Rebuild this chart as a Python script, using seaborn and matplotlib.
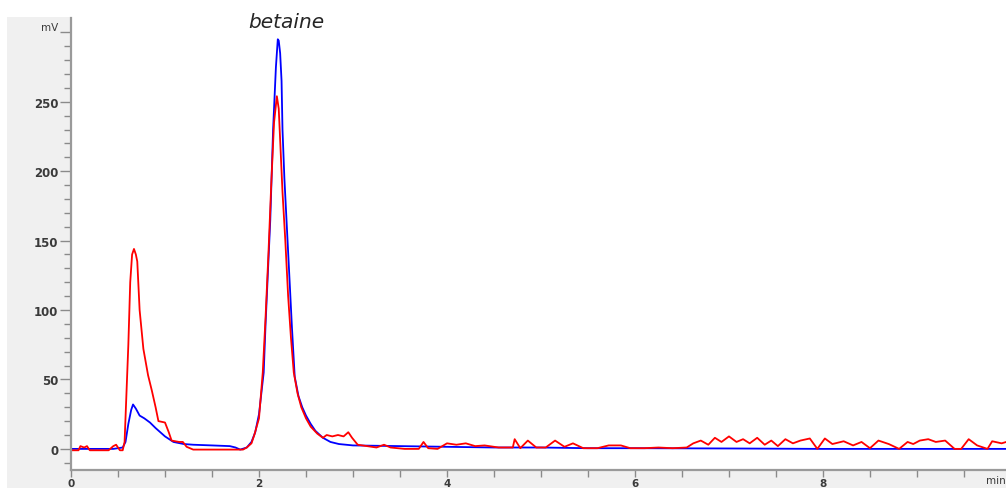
import pandas as pd
import seaborn as sns
import matplotlib.pyplot as plt
from matplotlib.patches import Rectangle
from matplotlib.ticker import MultipleLocator, FixedLocator

# blue trace (time in min, signal in mV)
blue_t = [0, 0.1, 0.2, 0.3, 0.45, 0.55, 0.58, 0.61, 0.64, 0.66, 0.69, 0.73, 0.78,
          0.84, 0.9, 0.95, 1.0, 1.09, 1.2, 1.3, 1.5, 1.69, 1.75, 1.8, 1.87, 1.92,
          1.96, 2.0, 2.05, 2.07, 2.1, 2.12, 2.15, 2.18, 2.2, 2.21, 2.225, 2.24,
          2.25, 2.27, 2.3, 2.33, 2.35, 2.38, 2.42, 2.46, 2.5, 2.55, 2.6, 2.68,
          2.76, 2.85, 3.0, 3.5, 4.0, 4.5, 5.0, 5.5, 6.0, 7.0, 8.0, 9.0, 9.95]
blue_v = [0, 0, 0, 0, 0, 1, 5, 18, 28, 32, 29, 24, 22,
          19, 15, 12, 9, 5, 3.5, 3, 2.5, 2, 1, -0.5, 1, 5,
          12, 25, 55, 90, 135, 165, 230, 275, 295, 294, 285, 265,
          230, 195, 155, 115, 88, 52, 38, 30, 24, 18, 13, 8,
          5, 3.5, 2.5, 2, 1.5, 1, 1, 0.5, 0.5, 0.3, 0, 0, 0]

# red trace
red_t = [0, 0.08, 0.1, 0.14, 0.17, 0.2, 0.24, 0.4, 0.45, 0.48, 0.52, 0.55, 0.57,
         0.59, 0.61, 0.63, 0.65, 0.67, 0.69, 0.705, 0.73, 0.77, 0.82, 0.86, 0.9,
         0.93, 1.0, 1.04, 1.07, 1.15, 1.19, 1.23, 1.3, 1.6, 1.83, 1.87, 1.92,
         1.95, 2.0, 2.04, 2.07, 2.1, 2.13, 2.16, 2.19, 2.21, 2.23, 2.25, 2.28,
         2.31, 2.34, 2.37, 2.41, 2.45, 2.5, 2.55, 2.62, 2.68, 2.72, 2.78, 2.84,
         2.9, 2.95, 2.99, 3.05, 3.15, 3.25, 3.33, 3.4, 3.55, 3.7, 3.75, 3.8, 3.9,
         4.0, 4.1, 4.2, 4.3, 4.4, 4.55, 4.7, 4.72, 4.78, 4.86, 4.95, 5.05, 5.15,
         5.25, 5.34, 5.45, 5.6, 5.72, 5.85, 5.95, 6.1, 6.25, 6.4, 6.55, 6.62,
         6.7, 6.78, 6.85, 6.92, 7.0, 7.08, 7.15, 7.22, 7.3, 7.38, 7.45, 7.52,
         7.6, 7.68, 7.76, 7.86, 7.94, 8.02, 8.1, 8.22, 8.32, 8.41, 8.5, 8.59,
         8.7, 8.81, 8.9, 8.96, 9.03, 9.12, 9.2, 9.3, 9.4, 9.47, 9.55, 9.64,
         9.75, 9.8, 9.9, 9.95]
red_v = [-1, -1, 2, 1, 2, -1, -1, -1, 2, 3, -1, -1, 5,
         40, 75, 120, 140, 144, 140, 135, 100, 72, 53, 42, 30,
         20, 19, 12, 6, 5, 5, 1.5, -0.5, -0.5, -0.5, 1, 4,
         10, 22, 55, 95, 140, 190, 235, 254, 245, 215, 185, 150,
         110, 80, 55, 40, 30, 22, 16, 11, 8, 10, 9, 10,
         9, 12, 8, 3, 2, 1, 3, 1, 0, 0, 5, 0.5, 0,
         4, 3, 4, 2, 2.5, 1, 1, 7, 0.5, 6, 1, 1, 6,
         1.5, 4, 0.5, 0.5, 2.5, 2.5, 0.5, 0.5, 1, 0.5, 1, 4,
         6, 3, 8, 5, 9, 5, 7, 4, 8, 3, 6, 2,
         7, 4, 6, 7.5, 0, 7.5, 3.5, 5.5, 2.5, 5, 0.5, 6,
         3.5, 0, 5, 3.5, 6, 7, 5, 6, 0, 0, 7, 2.5,
         0, 5.5, 4, 5]

y_major = [0, 50, 100, 150, 200, 250, 300]
y_labels = ['0', '50', '100', '150', '200', '250', 'mV']
x_major = [0, 2, 4, 6, 8]
x_labels = ['0', '2', '4', '6', '8']

sns.set_style('white')
plt.rcParams['font.family'] = ['DejaVu Sans']

W, H = 1006, 489
fig = plt.figure(figsize=(W / 100, H / 100), dpi=100, facecolor='white')
# grey instrument panel behind the plot
fig.patches.append(Rectangle((7 / W, 0), 1 - 7 / W, (H - 18) / H,
                             transform=fig.transFigure, facecolor='#f0f0f0',
                             edgecolor='none', zorder=-5))
ax = fig.add_axes([71 / W, (H - 471) / H, (W - 71) / W, 471 / H])
ax.set_facecolor('white')

blue_df = pd.DataFrame({'time': blue_t, 'mV': blue_v})
red_df = pd.DataFrame({'time': red_t, 'mV': red_v})
sns.lineplot(data=blue_df, x='time', y='mV', color='#0000ff', lw=1.3,
             sort=False, estimator=None, ax=ax)
sns.lineplot(data=red_df, x='time', y='mV', color='#ff0000', lw=1.3,
             sort=False, estimator=None, ax=ax)

ax.set_xlim(0, 9.947)
ax.set_ylim(-15.2, 324)
ax.set_xlabel('')
ax.set_ylabel('')

for s in ['top', 'right']:
    ax.spines[s].set_visible(False)
for s in ['left', 'bottom']:
    ax.spines[s].set_color('#9a9a9a')
    ax.spines[s].set_linewidth(1.6)
ax.spines['left'].set_bounds(-15.2, 310)

ax.yaxis.set_major_locator(FixedLocator(y_major))
ax.set_yticklabels(y_labels)
ax.yaxis.set_minor_locator(FixedLocator([v for v in range(-10, 310, 10) if v % 50 != 0]))
ax.xaxis.set_major_locator(FixedLocator(x_major))
ax.set_xticklabels(x_labels)
ax.xaxis.set_minor_locator(MultipleLocator(0.5))

ax.tick_params(which='both', left=True, bottom=True)
ax.tick_params(axis='y', which='major', direction='out', length=8, width=1,
               color='#8a8a8a', labelsize=8.5, labelcolor='#3a3a3a', pad=1)
ax.tick_params(axis='y', which='minor', direction='out', length=5, width=1,
               color='#8a8a8a')
ax.tick_params(axis='x', which='major', direction='out', length=5, width=1,
               color='#8a8a8a', labelsize=7.5, labelcolor='#3a3a3a', pad=1)
ax.tick_params(axis='x', which='minor', direction='out', length=5, width=1,
               color='#8a8a8a')
for lab in ax.get_yticklabels() + ax.get_xticklabels():
    lab.set_fontweight('bold')
ax.get_yticklabels()[-1].set_fontweight('normal')
ax.get_yticklabels()[-1].set_fontsize(7.5)
ax.get_yticklabels()[-1].set_va('bottom')

ax.text(9.945, -19, 'min', ha='right', va='top', fontsize=7.5, color='#3a3a3a',
        clip_on=False)
ax.text(2.29, 304, 'betaine', ha='center', va='baseline', fontsize=14.5,
        style='italic')

fig.savefig('out.png', dpi=100)
